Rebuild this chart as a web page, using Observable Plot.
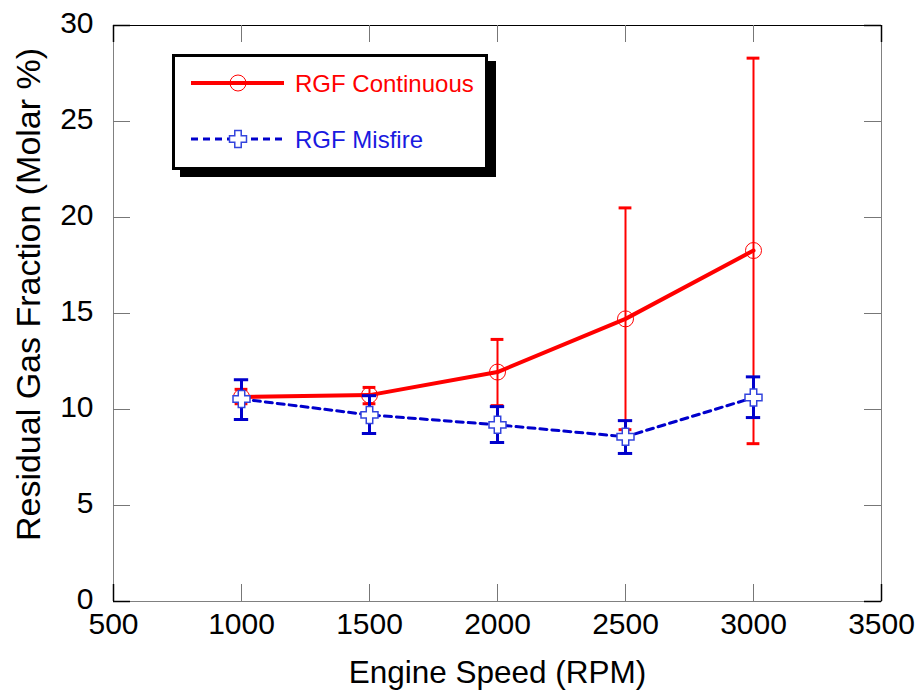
<!DOCTYPE html>
<html>
<head>
<meta charset="utf-8">
<script src="https://cdn.jsdelivr.net/npm/d3@7"></script>
<script src="https://cdn.jsdelivr.net/npm/@observablehq/plot@0.6"></script>
<style>
  html, body { margin: 0; padding: 0; background: white; }
  #wrap { position: relative; width: 919px; height: 690px; font-family: "Liberation Sans", Arial, sans-serif; }
  #legend { position: absolute; left: 172px; top: 54px; width: 310px; height: 110px;
            border: 3px solid black; background: white; box-shadow: 8px 7px 0 black; }
</style>
</head>
<body>
<div id="wrap"></div>
<script>
// ---- data ----
const speeds = [1000, 1500, 2000, 2500, 3000];
const contMean = [10.65, 10.75, 11.95, 14.72, 18.28];
const contLow  = [10.30, 10.30, 10.20, 8.95, 8.22];
const contHigh = [11.05, 11.15, 13.65, 20.50, 28.30];
const misMean  = [10.55, 9.72, 9.20, 8.58, 10.62];
const misLow   = [9.48, 8.75, 8.28, 7.71, 9.58];
const misHigh  = [11.55, 10.72, 10.15, 9.42, 11.70];
const xTicks = [500, 1000, 1500, 2000, 2500, 3000, 3500];
const yTicks = [0, 5, 10, 15, 20, 25, 30];
const seriesNames = ["RGF Continuous", "RGF Misfire"];
const xTitle = "Engine Speed (RPM)";
const yTitle = "Residual Gas Fraction (Molar %)";

const RED = "#ff0000";
const BLUE = "#0000cc";
const PLUS_STROKE = "#3344dd";

const idx = speeds.map((_, i) => i);

const crossSymbol = {
  draw(ctx, size) {
    const r = Math.sqrt(size / Math.PI);
    const a = r * 0.38;
    ctx.moveTo(-a, -r); ctx.lineTo(a, -r); ctx.lineTo(a, -a); ctx.lineTo(r, -a);
    ctx.lineTo(r, a); ctx.lineTo(a, a); ctx.lineTo(a, r); ctx.lineTo(-a, r);
    ctx.lineTo(-a, a); ctx.lineTo(-r, a); ctx.lineTo(-r, -a); ctx.lineTo(-a, -a);
    ctx.closePath();
  }
};

const W = 919, H = 690, mL = 113, mR = 38, mT = 25, mB = 89;
const fw = W - mL - mR, fh = H - mT - mB, tl = 17;
const innerX = xTicks.slice(1, -1), innerY = yTicks.slice(1, -1);
const endX = [xTicks[0], xTicks[xTicks.length - 1]];
const endY = [yTicks[0], yTicks[yTicks.length - 1]];

const chart = Plot.plot({
  width: W, height: H,
  marginLeft: mL, marginRight: mR, marginTop: mT, marginBottom: mB,
  x: {domain: [500, 3500]},
  y: {domain: [0, 30]},
  style: {fontFamily: "'Liberation Sans', Arial, sans-serif", background: "white", color: "black"},
  marks: [
    Plot.frame({stroke: "#808080"}),
    Plot.ruleY([30], {stroke: "black", strokeWidth: 1.2}),
    // inward ticks
    Plot.tickX(innerX, {x: d => d, insetTop: fh - tl, stroke: "#777"}),
    Plot.tickX(innerX, {x: d => d, insetBottom: fh - tl, stroke: "#777"}),
    Plot.tickY(innerY, {y: d => d, insetRight: fw - tl, stroke: "#777"}),
    Plot.tickY(innerY, {y: d => d, insetLeft: fw - tl, stroke: "#777"}),
    Plot.tickX(endX, {x: d => d, insetTop: fh - tl, stroke: "black", strokeWidth: 1.5}),
    Plot.tickX(endX, {x: d => d, insetBottom: fh - tl, stroke: "black", strokeWidth: 1.5}),
    Plot.tickY(endY, {y: d => d, insetRight: fw - tl, stroke: "black", strokeWidth: 1.5}),
    Plot.tickY(endY, {y: d => d, insetLeft: fw - tl, stroke: "black", strokeWidth: 1.5}),
    Plot.axisX({ticks: xTicks, tickSize: 0, tickPadding: 11, fontSize: 30, label: null, tickFormat: d => String(d)}),
    Plot.axisY({ticks: yTicks, tickSize: 0, tickPadding: 20, fontSize: 30, label: null, dy: -2}),
    Plot.text([xTitle], {frameAnchor: "bottom", dy: 71, fontSize: 31.5, lineAnchor: "middle", textAnchor: "middle", fill: "black"}),
    Plot.text([yTitle], {frameAnchor: "left", dx: -84, dy: -19, rotate: -90, fontSize: 34, lineAnchor: "middle", textAnchor: "middle", fill: "black"}),
    // continuous series
    Plot.line(idx, {x: i => speeds[i], y: i => contMean[i], stroke: RED, strokeWidth: 4}),
    Plot.ruleX(idx, {x: i => speeds[i], y1: i => contLow[i], y2: i => contHigh[i], stroke: RED, strokeWidth: 2}),
    Plot.ruleY(idx, {y: i => contLow[i], x1: i => speeds[i] - 25, x2: i => speeds[i] + 25, stroke: RED, strokeWidth: 3}),
    Plot.ruleY(idx, {y: i => contHigh[i], x1: i => speeds[i] - 25, x2: i => speeds[i] + 25, stroke: RED, strokeWidth: 3}),
    Plot.dot(idx, {x: i => speeds[i], y: i => contMean[i], r: 8, stroke: RED, strokeWidth: 1, fill: "none"}),
    // misfire series
    Plot.line(idx, {x: i => speeds[i], y: i => misMean[i], stroke: BLUE, strokeWidth: 3, strokeDasharray: "7,5"}),
    Plot.ruleX(idx, {x: i => speeds[i], y1: i => misLow[i], y2: i => misHigh[i], stroke: BLUE, strokeWidth: 3}),
    Plot.ruleY(idx, {y: i => misLow[i], x1: i => speeds[i] - 28, x2: i => speeds[i] + 28, stroke: BLUE, strokeWidth: 3}),
    Plot.ruleY(idx, {y: i => misHigh[i], x1: i => speeds[i] - 28, x2: i => speeds[i] + 28, stroke: BLUE, strokeWidth: 3}),
    Plot.dot(idx, {x: i => speeds[i], y: i => misMean[i], r: 8.5, symbol: crossSymbol, fill: "white", stroke: PLUS_STROKE, strokeWidth: 1.5})
  ]
});

const wrap = document.getElementById("wrap");
wrap.appendChild(chart);

// ---- legend ----
const legend = document.createElement("div");
legend.id = "legend";
wrap.appendChild(legend);
const lsvg = d3.select(legend).append("svg").attr("width", 310).attr("height", 110)
  .style("display", "block");
const ox = 175, oy = 57;
const rows = [
  {name: seriesNames[0], color: RED, y: 83 - oy, dash: null, w: 4},
  {name: seriesNames[1], color: BLUE, y: 139 - oy, dash: "7,5", w: 3}
];
rows.forEach((r, k) => {
  lsvg.append("line").attr("x1", 191 - ox).attr("x2", 284 - ox).attr("y1", r.y).attr("y2", r.y)
    .attr("stroke", r.color).attr("stroke-width", r.w).attr("stroke-dasharray", r.dash);
  if (k === 0) {
    lsvg.append("circle").attr("cx", 238 - ox).attr("cy", r.y).attr("r", 8)
      .attr("fill", "none").attr("stroke", RED).attr("stroke-width", 1);
  } else {
    lsvg.append("path").attr("transform", `translate(${238 - ox},${r.y})`)
      .attr("d", d3.symbol(crossSymbol, Math.PI * 8.5 * 8.5)())
      .attr("fill", "white").attr("stroke", PLUS_STROKE).attr("stroke-width", 1.5);
  }
  lsvg.append("text").attr("x", 295 - ox).attr("y", r.y).attr("dy", "0.36em")
    .attr("font-size", 24).attr("fill", k === 0 ? RED : "#1a1ae0")
    .attr("font-family", "'Liberation Sans', Arial, sans-serif").text(r.name);
});
</script>
</body>
</html>
